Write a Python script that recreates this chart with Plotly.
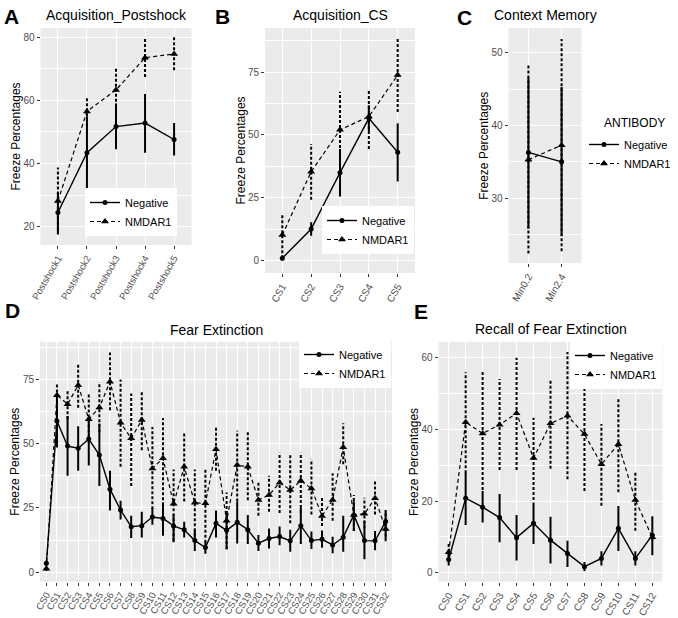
import plotly.graph_objects as go

W, H = 678, 618
FONT = "Liberation Sans, Arial, sans-serif"

# ---------------- data ----------------
A_cats = ["Postshock1", "Postshock2", "Postshock3", "Postshock4", "Postshock5"]
A_neg = [24.5, 43.4, 51.7, 52.8, 47.6]
A_neg_lo = [17.9, 31.4, 44.5, 43.4, 42.5]
A_neg_hi = [30.8, 55.0, 59.0, 62.0, 52.8]
A_nm = [28.1, 56.5, 63.3, 73.5, 74.7]
A_nm_lo = [17.5, 51.8, 56.4, 67.4, 69.5]
A_nm_hi = [38.7, 61.3, 70.3, 79.4, 80.0]

B_cats = ["CS1", "CS2", "CS3", "CS4", "CS5"]
B_neg = [1.0, 12.6, 35.0, 56.6, 43.1]
B_neg_lo = [0.0, 9.9, 25.5, 51.5, 31.5]
B_neg_hi = [2.0, 15.3, 44.4, 61.8, 54.6]
B_nm = [10.2, 35.4, 52.0, 57.3, 73.8]
B_nm_lo = [1.0, 24.2, 36.8, 44.4, 59.1]
B_nm_hi = [18.9, 46.4, 67.2, 67.9, 88.4]

C_cats = ["Min0.2", "Min2.4"]
C_neg = [36.3, 35.0]
C_neg_lo = [25.8, 24.8]
C_neg_hi = [46.6, 45.3]
C_nm = [35.3, 37.3]
C_nm_lo = [22.4, 22.7]
C_nm_hi = [48.3, 51.9]

D_cats = ["CS%d" % i for i in range(33)]
D_neg = [3.5, 58.8, 49.1, 48.2, 51.8, 45.6, 32.3, 24.2, 17.7, 18.1, 21.5, 20.9, 18.0, 16.5,
         12.3, 9.6, 19.0, 16.3, 19.4, 16.5, 11.3, 13.1, 13.9, 12.2, 18.1, 12.3, 12.8, 10.6,
         13.6, 22.3, 12.3, 12.2, 19.7]
D_neg_lo = [2.5, 49.0, 37.5, 39.5, 41.5, 33.5, 24.0, 20.5, 13.3, 13.5, 18.5, 14.2, 11.7, 13.5,
            8.2, 7.2, 13.5, 8.8, 11.2, 11.0, 8.2, 9.2, 10.5, 8.0, 11.0, 9.0, 9.5, 7.4,
            8.0, 16.0, 5.0, 8.5, 13.0]
D_neg_hi = [4.5, 69.0, 60.8, 56.8, 59.0, 57.9, 39.5, 27.8, 22.0, 23.5, 25.0, 27.2, 22.5, 19.6,
            16.3, 12.0, 24.0, 23.8, 27.5, 22.3, 14.5, 17.0, 17.8, 16.5, 25.0, 15.8, 16.2, 13.8,
            22.0, 27.6, 20.0, 16.0, 24.2]
D_nm = [1.3, 68.9, 65.4, 72.8, 59.5, 64.1, 74.1, 58.2, 52.1, 59.2, 40.4, 44.3, 26.6, 41.0,
        27.0, 26.8, 47.8, 20.0, 41.7, 41.0, 28.1, 30.0, 34.8, 32.0, 35.6, 32.6, 21.9, 28.1,
        48.6, 22.3, 22.7, 28.8, 16.8]
D_nm_lo = [0.5, 48.5, 59.5, 64.0, 50.5, 54.5, 63.0, 41.0, 33.5, 47.5, 24.5, 28.0, 12.0, 27.5,
           14.0, 11.5, 39.5, 9.0, 27.5, 28.0, 22.0, 23.5, 23.0, 19.0, 23.0, 22.5, 18.0, 20.0,
           42.0, 16.0, 17.0, 22.5, 12.0]
D_nm_hi = [2.5, 73.0, 71.0, 81.0, 69.5, 74.0, 85.5, 75.0, 69.5, 70.0, 56.5, 60.0, 40.0, 54.0,
           40.0, 40.0, 56.5, 31.0, 55.0, 54.5, 35.0, 37.5, 46.5, 45.5, 46.5, 44.0, 29.5, 38.5,
           58.0, 30.0, 29.0, 36.0, 24.0]

E_cats = ["CS%d" % i for i in range(13)]
E_neg = [3.7, 20.8, 18.3, 15.4, 9.8, 13.8, 9.1, 5.4, 1.7, 4.0, 12.4, 4.0, 10.5]
E_neg_lo = [2.0, 13.3, 14.0, 8.5, 3.4, 8.0, 2.6, 1.6, 0.5, 2.0, 6.1, 2.0, 4.9]
E_neg_hi = [5.5, 27.9, 22.8, 22.0, 16.1, 19.6, 15.6, 8.9, 3.0, 6.0, 18.6, 6.0, 15.8]
E_nm = [5.7, 42.0, 38.9, 41.3, 44.5, 32.0, 41.7, 43.8, 38.7, 30.3, 35.9, 20.3, 9.9]
E_nm_lo = [3.0, 27.8, 23.1, 28.7, 28.7, 20.3, 29.0, 26.1, 22.8, 18.7, 22.5, 11.7, 9.0]
E_nm_hi = [8.2, 56.0, 56.1, 54.1, 60.0, 43.3, 54.0, 61.6, 54.3, 41.5, 48.7, 28.4, 11.0]

SERIES = ["Negative", "NMDAR1"]
LEGEND_TITLE = "ANTIBODY"


def fx(px):
    return px / W


def fy(py):
    return 1 - py / H


fig = go.Figure()


def seg(cats, lo, hi):
    xs, ys = [], []
    for c, l, h in zip(cats, lo, hi):
        xs += [c, c, None]
        ys += [l, h, None]
    return xs, ys


def add_panel(i, cats, neg, neg_lo, neg_hi, nm, nm_lo, nm_hi, legname):
    xa = "x" if i == 1 else "x%d" % i
    ya = "y" if i == 1 else "y%d" % i
    xs, ys = seg(cats, nm_lo, nm_hi)
    fig.add_trace(go.Scatter(x=xs, y=ys, mode="lines", xaxis=xa, yaxis=ya,
                             line=dict(color="black", width=2, dash="3px,2px"),
                             showlegend=False, hoverinfo="skip"))
    xs, ys = seg(cats, neg_lo, neg_hi)
    fig.add_trace(go.Scatter(x=xs, y=ys, mode="lines", xaxis=xa, yaxis=ya,
                             line=dict(color="black", width=2),
                             showlegend=False, hoverinfo="skip"))
    fig.add_trace(go.Scatter(x=cats, y=neg, mode="lines+markers", name=SERIES[0],
                             xaxis=xa, yaxis=ya, legend=legname,
                             line=dict(color="black", width=1.4),
                             marker=dict(symbol="circle", size=5, color="black")))
    fig.add_trace(go.Scatter(x=cats, y=nm, mode="lines+markers", name=SERIES[1],
                             xaxis=xa, yaxis=ya, legend=legname,
                             line=dict(color="black", width=1.2, dash="4px,3px"),
                             marker=dict(symbol="triangle-up", size=7, color="black")))


add_panel(1, A_cats, A_neg, A_neg_lo, A_neg_hi, A_nm, A_nm_lo, A_nm_hi, "legend")
add_panel(2, B_cats, B_neg, B_neg_lo, B_neg_hi, B_nm, B_nm_lo, B_nm_hi, "legend2")
add_panel(3, C_cats, C_neg, C_neg_lo, C_neg_hi, C_nm, C_nm_lo, C_nm_hi, "legend3")
add_panel(4, D_cats, D_neg, D_neg_lo, D_neg_hi, D_nm, D_nm_lo, D_nm_hi, "legend4")
add_panel(5, E_cats, E_neg, E_neg_lo, E_neg_hi, E_nm, E_nm_lo, E_nm_hi, "legend5")

# panel geometry (pixels): x0, x1, y0(top), y1(bottom), yrange, dtick, x tick font size
panels = [
    (A_cats, 40.5, 191.5, 28, 245, [14.2, 82.9], 20, 9.5),
    (B_cats, 265, 415, 28, 273, [-4.9, 92.5], 25, 10),
    (C_cats, 508.5, 581.5, 28, 263, [21.1, 53.4], 10, 10),
    (D_cats, 40, 392, 341.7, 581.7, [-3.7, 89.7], 25, 9.5),
    (E_cats, 438.5, 662.5, 341.7, 581.7, [-2.5, 64.5], 20, 10),
]

layout = dict(width=W, height=H, autosize=False,
              margin=dict(l=0, r=0, t=0, b=0, autoexpand=False),
              paper_bgcolor="white", plot_bgcolor="#EBEBEB",
              font=dict(family=FONT, color="black"), hovermode=False)

for i, (cats, x0, x1, y0, y1, yr, dt, xfs) in enumerate(panels, start=1):
    xk = "xaxis" if i == 1 else "xaxis%d" % i
    yk = "yaxis" if i == 1 else "yaxis%d" % i
    ax_anchor = "y" if i == 1 else "y%d" % i
    ay_anchor = "x" if i == 1 else "x%d" % i
    layout[xk] = dict(domain=[fx(x0), fx(x1)], anchor=ax_anchor, type="category",
                      categoryorder="array", categoryarray=cats,
                      range=[-0.6, len(cats) - 0.4], automargin=False,
                      tickmode="array", tickvals=cats, ticktext=cats,
                      showgrid=True, gridcolor="white", gridwidth=1.2,
                      ticks="outside", ticklen=3, tickcolor="#333333", tickwidth=1,
                      tickangle=-60, tickfont=dict(size=xfs, color="#4D4D4D", family=FONT),
                      zeroline=False, showline=False)
    layout[yk] = dict(domain=[fy(y1), fy(y0)], anchor=ay_anchor, range=yr,
                      automargin=False,
                      tickmode="linear", tick0=0, dtick=dt,
                      showgrid=True, gridcolor="white", gridwidth=1.2,
                      minor=dict(tick0=0, dtick=dt / 2, showgrid=True,
                                 gridcolor="white", gridwidth=0.6, ticks=""),
                      ticks="outside", ticklen=3, tickcolor="#333333", tickwidth=1,
                      tickfont=dict(size=10, color="#4D4D4D", family=FONT),
                      zeroline=False, showline=False)

leg_common = dict(bgcolor="white", borderwidth=0, font=dict(size=11, family=FONT),
                  tracegroupgap=0, itemwidth=30, xanchor="right", yanchor="top")
layout["legend"] = dict(leg_common, x=fx(177), y=fy(188))
layout["legend2"] = dict(leg_common, x=fx(414), y=fy(206))
layout["legend4"] = dict(leg_common, x=fx(391), y=fy(340))
layout["legend5"] = dict(leg_common, x=fx(662), y=fy(341))
layout["legend3"] = dict(bgcolor="rgba(0,0,0,0)", borderwidth=0,
                         font=dict(size=11, family=FONT),
                         tracegroupgap=0, itemwidth=30, xanchor="left", yanchor="top",
                         x=fx(584), y=fy(130))

fig.update_layout(**layout)

fig.add_annotation(text=LEGEND_TITLE, x=fx(602), y=fy(123), xref="paper", yref="paper",
                   showarrow=False, font=dict(size=12, family=FONT),
                   xanchor="left", yanchor="middle")

titles = [("Acquisition_Postshock", 116.7, 15), ("Acquisition_CS", 340, 15),
          ("Context Memory", 545, 15), ("Fear Extinction", 216, 330),
          ("Recall of Fear Extinction", 551, 329)]
for t, x, y in titles:
    fig.add_annotation(text=t, x=fx(x), y=fy(y), xref="paper", yref="paper",
                       showarrow=False, font=dict(size=14, family=FONT),
                       xanchor="center", yanchor="middle")

ytitles = [(15, 136.5), (241, 150.5), (483.3, 145.5), (15, 461.7), (413.3, 461.7)]
for x, y in ytitles:
    fig.add_annotation(text="Freeze Percentages", x=fx(x), y=fy(y), xref="paper",
                       yref="paper", showarrow=False, textangle=-90,
                       font=dict(size=12, family=FONT), xanchor="center", yanchor="middle")

letters = [("A", 11, 16), ("B", 222, 16), ("C", 465, 18), ("D", 12, 310), ("E", 421, 311)]
for t, x, y in letters:
    fig.add_annotation(text="<b>%s</b>" % t, x=fx(x), y=fy(y), xref="paper", yref="paper",
                       showarrow=False, font=dict(size=21, family=FONT),
                       xanchor="center", yanchor="middle")

fig.write_html("out.html", config={"displayModeBar": False},
               post_script="document.body.style.margin='0';")
